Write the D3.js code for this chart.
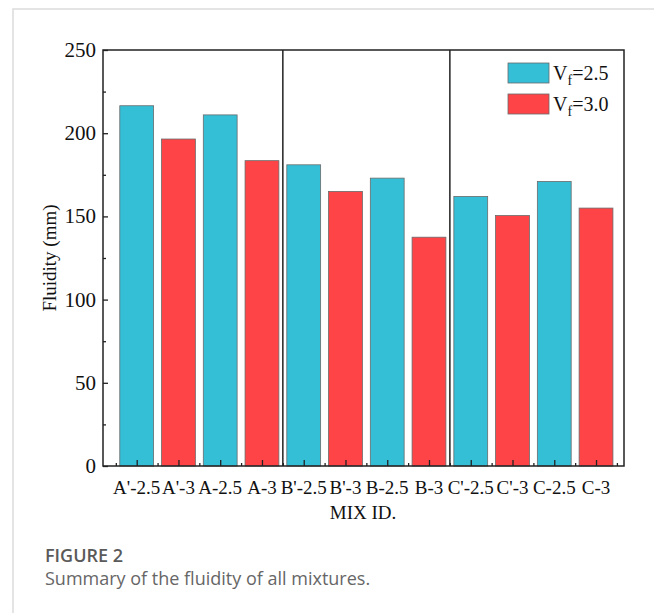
<!DOCTYPE html>
<html>
<head>
<meta charset="utf-8">
<script src="https://cdn.jsdelivr.net/npm/d3@7"></script>
<style>
  body { margin: 0; background: #fff; }
  svg { display: block; }
</style>
</head>
<body>
<script>
// chart data
var mixIds = ["A'-2.5", "A'-3", "A-2.5", "A-3", "B'-2.5", "B'-3", "B-2.5", "B-3", "C'-2.5", "C'-3", "C-2.5", "C-3"];
var fluidity = [216.5, 196.5, 211, 183.5, 181, 165, 173, 137.5, 162, 150.5, 171, 155];
var fiberVf = ["2.5", "3.0", "2.5", "3.0", "2.5", "3.0", "2.5", "3.0", "2.5", "3.0", "2.5", "3.0"];
var groupBreaks = [4.5, 8.5];
var yTicks = [0, 50, 100, 150, 200, 250];
var legendItems = ["2.5", "3.0"];

var colors = { "2.5": "#34bfd7", "3.0": "#fe4446" };
var serif = "'Liberation Serif', 'Times New Roman', serif";

var svg = d3.select("body").append("svg")
            .attr("width", 654)
            .attr("height", 613);

// card border (left + top)
svg.append("path")
   .attr("d", "M13,613 L13,9 L654,9")
   .attr("fill", "none")
   .attr("stroke", "#dcdcdc")
   .attr("stroke-width", 1.5);

var plotL = 103, plotR = 624, plotT = 50, plotB = 466;

var x = d3.scaleLinear().domain([0.193, 12.67]).range([plotL, plotR]);
var y = d3.scaleLinear().domain([0, 250]).range([plotB, plotT]);
var barW = 0.81;

// bars
svg.selectAll("rect.bar")
   .data(fluidity)
   .enter()
   .append("rect")
   .attr("class", "bar")
   .attr("x", function (d, i) { return x(i + 1 - barW / 2); })
   .attr("width", function () { return x(1 + barW) - x(1); })
   .attr("y", function (d) { return y(d); })
   .attr("height", function (d) { return y(0) - y(d); })
   .attr("fill", function (d, i) { return colors[fiberVf[i]]; })
   .attr("stroke", "#6a6a6a")
   .attr("stroke-width", 0.8);

// group separators
svg.selectAll("line.sep")
   .data(groupBreaks)
   .enter()
   .append("line")
   .attr("x1", function (d) { return x(d); })
   .attr("x2", function (d) { return x(d); })
   .attr("y1", plotT)
   .attr("y2", plotB)
   .attr("stroke", "#222")
   .attr("stroke-width", 1.5);

// frame
svg.append("rect")
   .attr("x", plotL)
   .attr("y", plotT)
   .attr("width", plotR - plotL)
   .attr("height", plotB - plotT)
   .attr("fill", "none")
   .attr("stroke", "#222")
   .attr("stroke-width", 1.5);

// y axis (inward ticks)
var yAxis = d3.axisRight(y).tickValues(yTicks).tickSize(5).tickFormat("");
svg.append("g")
   .attr("transform", "translate(" + plotL + ",0)")
   .call(yAxis)
   .call(function (g) { g.select(".domain").remove(); })
   .selectAll("line").attr("stroke", "#222").attr("stroke-width", 1.3);

var yMinor = d3.axisRight(y).tickValues([25, 75, 125, 175, 225]).tickSize(3).tickFormat("");
svg.append("g")
   .attr("transform", "translate(" + plotL + ",0)")
   .call(yMinor)
   .call(function (g) { g.select(".domain").remove(); })
   .selectAll("line").attr("stroke", "#222").attr("stroke-width", 1.3);

svg.selectAll("text.ylab")
   .data(yTicks)
   .enter()
   .append("text")
   .attr("class", "ylab")
   .attr("x", plotL - 7)
   .attr("y", function (d) { return y(d); })
   .attr("dy", "0.33em")
   .attr("text-anchor", "end")
   .attr("font-family", serif)
   .attr("font-size", 21)
   .attr("fill", "#111")
   .text(function (d) { return d; });

// x axis (inward ticks)
var idx = d3.range(1, mixIds.length + 1);
var xAxis = d3.axisTop(x).tickValues(idx).tickSize(6).tickFormat("");
svg.append("g")
   .attr("transform", "translate(0," + plotB + ")")
   .call(xAxis)
   .call(function (g) { g.select(".domain").remove(); })
   .selectAll("line").attr("stroke", "#222").attr("stroke-width", 1.3);

var xMinor = d3.axisTop(x).tickValues(d3.range(0.5, mixIds.length + 1, 1)).tickSize(3).tickFormat("");
svg.append("g")
   .attr("transform", "translate(0," + plotB + ")")
   .call(xMinor)
   .call(function (g) { g.select(".domain").remove(); })
   .selectAll("line").attr("stroke", "#222").attr("stroke-width", 1.3);

svg.selectAll("text.xlab")
   .data(mixIds)
   .enter()
   .append("text")
   .attr("class", "xlab")
   .attr("x", function (d, i) { return x(i + 1); })
   .attr("y", 494)
   .attr("text-anchor", "middle")
   .attr("font-family", serif)
   .attr("font-size", 19)
   .attr("fill", "#111")
   .text(function (d) { return d; });

// axis titles
svg.append("text")
   .attr("x", 363)
   .attr("y", 519)
   .attr("text-anchor", "middle")
   .attr("font-family", serif)
   .attr("font-size", 19)
   .attr("fill", "#111")
   .text("MIX ID.");

svg.append("text")
   .attr("transform", "translate(56,258) rotate(-90)")
   .attr("text-anchor", "middle")
   .attr("font-family", serif)
   .attr("font-size", 19)
   .attr("fill", "#111")
   .text("Fluidity (mm)");

// legend
var legend = svg.selectAll("g.leg")
                .data(legendItems)
                .enter()
                .append("g")
                .attr("class", "leg")
                .attr("transform", function (d, i) { return "translate(508," + (63 + i * 31) + ")"; });

legend.append("rect")
      .attr("width", 41)
      .attr("height", 20)
      .attr("fill", function (d) { return colors[d]; })
      .attr("stroke", "#6a6a6a")
      .attr("stroke-width", 0.8);

var legText = legend.append("text")
                    .attr("x", 45)
                    .attr("y", 17)
                    .attr("font-family", serif)
                    .attr("font-size", 20)
                    .attr("fill", "#111");
legText.append("tspan").text("V");
legText.append("tspan").attr("font-size", 14).attr("dy", 5).text("f");
legText.append("tspan").attr("dy", -5).text(function (d) { return "=" + d; });

// caption
svg.append("text")
   .attr("x", 45)
   .attr("y", 562)
   .attr("font-family", "'Open Sans', sans-serif")
   .attr("font-size", 18)
   .attr("font-weight", 600)
   .attr("fill", "#5a5a5a")
   .text("FIGURE 2");

svg.append("text")
   .attr("x", 45)
   .attr("y", 585)
   .attr("font-family", "'Open Sans', sans-serif")
   .attr("font-size", 18)
   .attr("fill", "#666")
   .text("Summary of the fluidity of all mixtures.");
</script>
</body>
</html>
